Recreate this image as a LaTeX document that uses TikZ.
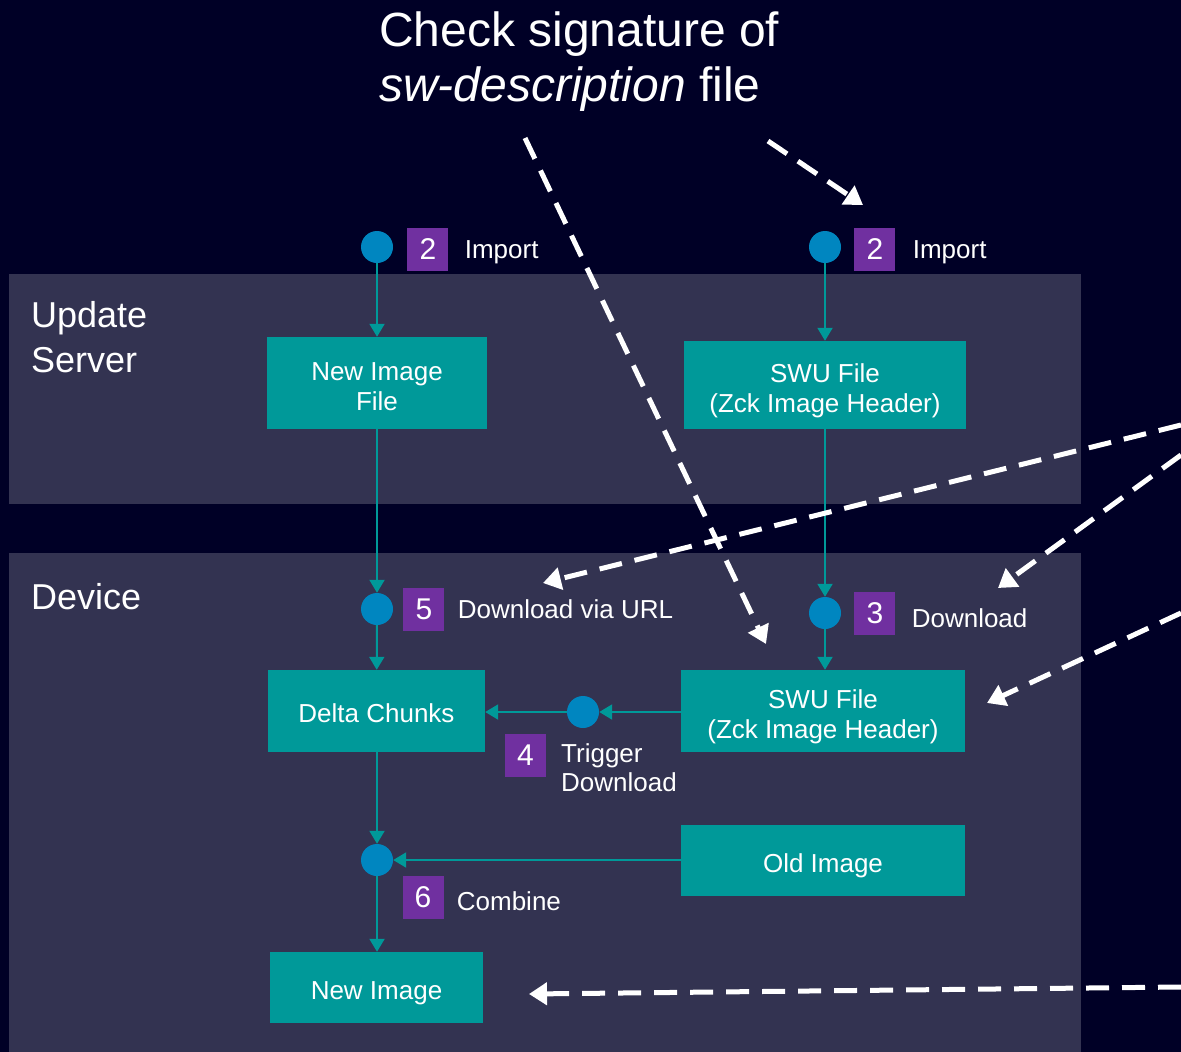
\documentclass[tikz,border=0pt]{standalone}
\usepackage{fontspec}
\setmainfont{Liberation Sans}
\usetikzlibrary{positioning}
\usetikzlibrary{arrows.meta}
\definecolor{bgnavy}{RGB}{0,0,38}
\definecolor{panelgrey}{RGB}{51,51,81}
\definecolor{boxteal}{RGB}{0,153,153}
\definecolor{dotblue}{RGB}{0,134,192}
\definecolor{steppurple}{RGB}{112,48,160}

\begin{document}
\begin{tikzpicture}[x=1pt,y=-1pt,
  every node/.style={text=white},
  box/.style={fill=boxteal,align=center,inner sep=0pt,text height=54pt,text depth=0pt,font=\fontsize{26}{30}\selectfont},
  onebox/.style={fill=boxteal,inner sep=0pt,text height=23pt,text depth=0pt,font=\fontsize{26}{30}\selectfont},
  dot/.style={circle,fill=dotblue,minimum size=32pt,inner sep=0pt},
  num/.style={fill=steppurple,minimum width=41pt,minimum height=43pt,inner sep=0pt,font=\fontsize{30}{30}\selectfont},
  lbl/.style={inner sep=0pt,text height=23pt,text depth=5pt,font=\fontsize{26}{29}\selectfont},
  flow/.style={draw=boxteal,line width=2pt,-{Triangle[length=13pt,width=15pt]}},
  sig/.style={draw=white,line width=5pt,dash pattern=on 23pt off 13pt,-{Triangle[length=18pt,width=22pt]}}]
  \fill[bgnavy] (0,0) rectangle (1181,1052);
  \useasboundingbox (0,0) rectangle (1181,1052);
  % panels
  \fill[panelgrey] (9,274) rectangle (1081,504);
  \fill[panelgrey] (9,553) rectangle (1081,1052);
  \node[anchor=north west,inner sep=0pt,align=left,font=\fontsize{48}{55}\selectfont] (title) at (379,12) {Check signature of\\\textit{sw-description} file};
  \node[anchor=north west,inner sep=0pt,align=left,font=\fontsize{36}{45}\selectfont] (server) at (31,301) {Update\\Server};
  \node[anchor=base west,inner sep=0pt,font=\fontsize{36}{40}\selectfont] (device) at (31,609) {Device};
  % boxes
  \node[box,minimum width=220pt,minimum height=92pt] (newfile) at (377,383) {New Image\\File};
  \node[box,minimum width=282pt,minimum height=88pt] (swuserver) at (825,385) {SWU File\\(Zck Image Header)};
  \node[onebox,minimum width=217pt,minimum height=82pt] (chunks) at (376.5,711) {Delta Chunks};
  \node[box,minimum width=284pt,minimum height=82pt] (swudevice) at (823,711) {SWU File\\(Zck Image Header)};
  \node[onebox,minimum width=284pt,minimum height=71pt] (oldimg) at (823,860.5) {Old Image};
  \node[onebox,minimum width=213pt,minimum height=71pt] (newimg) at (376.5,987.5) {New Image};
  % dots and steps
  \node[dot] (dotimportA) at (377,247) {};
  \node[dot] (dotimportB) at (825,247) {};
  \node[dot] (doturl) at (377,609) {};
  \node[dot] (dotdl) at (825,613) {};
  \node[dot] (dottrigger) at (583,712) {};
  \node[dot] (dotcombine) at (377,860) {};
  \node[num,right=14pt of dotimportA,yshift=-2pt] (stepA) {2};
  \node[lbl,right=16pt of stepA] (importA) {Import};
  \node[num,right=13pt of dotimportB,yshift=-2pt] (stepB) {2};
  \node[lbl,right=17pt of stepB] (importB) {Import};
  \node[num,right=10pt of doturl] (stepurl) {5};
  \node[lbl,right=13pt of stepurl] (urltext) {Download via URL};
  \node[num,right=13pt of dotdl] (stepdl) {3};
  \node[lbl,right=16pt of stepdl,yshift=-5pt] (dltext) {Download};
  \node[num] (steptrigger) at (525.5,755.5) {4};
  \node[anchor=north west,inner sep=0pt,align=left,font=\fontsize{26}{29}\selectfont] (triggertext) at (561,743) {Trigger\\Download};
  \node[num] (stepcombine) at (423,897) {6};
  \node[lbl,right=13pt of stepcombine,yshift=-4pt] (combinetext) {Combine};
  % flow
  \draw[flow] (dotimportA) -- (newfile);
  \draw[flow] (newfile) -- (doturl);
  \draw[flow] (doturl) -- (chunks);
  \draw[flow] (dotimportB) -- (swuserver);
  \draw[flow] (swuserver) -- (dotdl);
  \draw[flow] (dotdl) -- (dotdl |- swudevice.north);
  \draw[flow] (swudevice.west |- dottrigger) -- (dottrigger);
  \draw[flow] (dottrigger) -- (dottrigger -| chunks.east);
  \draw[flow] (chunks.south -| dotcombine) -- (dotcombine);
  \draw[flow] (oldimg.west |- dotcombine) -- (dotcombine);
  \draw[flow] (dotcombine) -- (dotcombine |- newimg.north);
  % signature checks
  \coordinate (sigA) at (525,138);
  \coordinate (sigB) at (768,141);
  \coordinate (feedC) at (1181,425);
  \coordinate (feedD) at (1181,455);
  \coordinate (feedE) at (1181,613);
  \coordinate (feedF) at (1181,987);
  \coordinate (hitA) at (766,644);
  \coordinate (hitB) at (863,205);
  \coordinate (hitC) at (543,583);
  \coordinate (hitD) at (998,588);
  \coordinate (hitE) at (987,703);
  \coordinate (hitF) at (529,994);
  \draw[sig] (sigA) -- (hitA);
  \draw[sig] (sigB) -- (hitB);
  \draw[sig] (feedC) -- (hitC);
  \draw[sig] (feedD) -- (hitD);
  \draw[sig] (feedE) -- (hitE);
  \draw[sig] (feedF) -- (hitF);
\end{tikzpicture}
\end{document}
